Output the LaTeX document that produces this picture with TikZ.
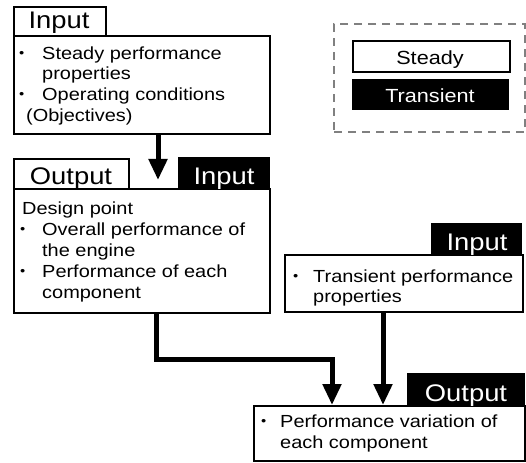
\documentclass[tikz,border=0pt]{standalone}
\usepackage{fontspec}
\setmainfont[FakeStretch=1.14]{Liberation Sans}
\usetikzlibrary{arrows.meta}
\begin{document}
\begin{tikzpicture}[x=1pt,y=-1pt,
  box/.style={draw,line width=1.8pt,fill=white,anchor=north west,inner sep=0pt},
  wtab/.style={draw,line width=2.2pt,fill=white,anchor=north west,inner sep=0pt},
  btab/.style={fill=black,anchor=north west,inner sep=0pt},
  legbox/.style={anchor=north west,inner sep=0pt,minimum width=157pt,minimum height=31pt},
  tablbl/.style={font=\fontsize{24}{26}\selectfont,anchor=base,inner sep=0pt},
  leglbl/.style={font=\fontsize{19}{22}\selectfont,anchor=base,inner sep=0pt},
  txt/.style={font=\fontsize{17.5}{20.7}\selectfont,anchor=base west,inner sep=0pt},
  bul/.style={font=\fontsize{13}{14}\selectfont,anchor=base west,inner sep=0pt},
  flow/.style={line width=5pt,line join=miter,-{Triangle[length=21pt,width=18pt]}},
]
\useasboundingbox (0,0) rectangle (526,462);

% legend
\node[draw=black!50,dash pattern=on 8pt off 6pt,line width=2.2pt,anchor=north west,inner sep=0pt,minimum width=191pt,minimum height=108pt] (leg) at (333,23) {};
\node[legbox,draw,line width=2pt,fill=white] (ls) at (352,40) {};
\node[legbox,fill=black] (lt) at (352,79) {};
\node[leglbl] (lst) at (430,65) {Steady};
\node[leglbl,text=white] (ltt) at (430,103) {Transient};

% box 1
\node[box,minimum width=256pt,minimum height=98pt] (b1) at (13,35) {};
\node[wtab,minimum width=92pt,minimum height=29pt] (t1) at (13,6) {};
\node[tablbl] (t1l) at (59,29) {Input};
\node[bul] (b1p1) at (19,58) {•};
\node[txt] (b1l1) at (42,60) {Steady performance};
\node[txt] (b1l2) at (42,80) {properties};
\node[bul] (b1p2) at (19,99) {•};
\node[txt] (b1l3) at (42,101) {Operating conditions};
\node[txt] (b1l4) at (26,122) {(Objectives)};

% box 2
\node[box,minimum width=256pt,minimum height=124pt] (b2) at (13,188) {};
\node[wtab,minimum width=115pt,minimum height=30pt] (t2) at (13,158) {};
\node[tablbl] (t2l) at (71,184) {Output};
\node[btab,minimum width=92pt,minimum height=31pt] (t2b) at (178,157) {};
\node[tablbl,text=white] (t2bl) at (224,184) {Input};
\node[txt] (b2l0) at (22,214) {Design point};
\node[bul] (b2p1) at (20,233) {•};
\node[txt] (b2l1) at (42,235) {Overall performance of};
\node[txt] (b2l2) at (42,256) {the engine};
\node[bul] (b2p2) at (20,275) {•};
\node[txt] (b2l3) at (42,277) {Performance of each};
\node[txt] (b2l4) at (42,298) {component};

% box 3
\node[box,minimum width=238pt,minimum height=57pt] (b3) at (284,254) {};
\node[btab,minimum width=91pt,minimum height=31pt] (t3) at (431,223) {};
\node[tablbl,text=white] (t3l) at (477,250) {Input};
\node[bul] (b3p1) at (293,280) {•};
\node[txt] (b3l1) at (313,282) {Transient performance};
\node[txt] (b3l2) at (313,302) {properties};

% box 4
\node[box,minimum width=271pt,minimum height=55pt] (b4) at (253,405) {};
\node[btab,minimum width=118pt,minimum height=32pt] (t4) at (407,373) {};
\node[tablbl,text=white] (t4l) at (466,401) {Output};
\node[bul] (b4p1) at (261,425) {•};
\node[txt] (b4l1) at (280,427) {Performance variation of};
\node[txt] (b4l2) at (280,448) {each component};

% connectors
\coordinate (x1) at (158,0);
\coordinate (a1e) at (158,180);
\draw[flow] (b1.south -| x1) -- (a1e);

\coordinate (bend) at (156,359);
\coordinate (x5) at (332,0);
\draw[flow] (b2.south -| bend) -- (bend) -| (b4.north -| x5);

\coordinate (x6) at (383,0);
\draw[flow] (b3.south -| x6) -- (b4.north -| x6);
\end{tikzpicture}
\end{document}
